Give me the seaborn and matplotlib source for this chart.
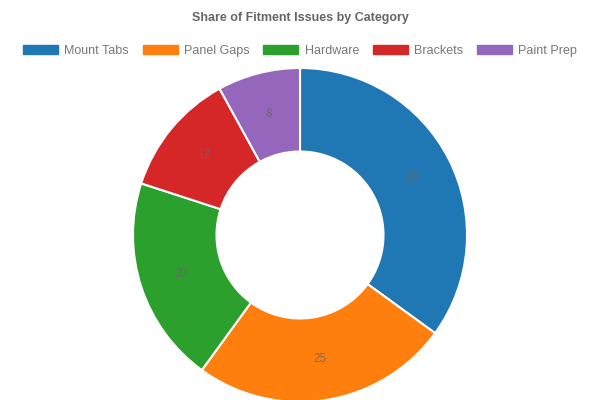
import numpy as np
import seaborn as sns
import matplotlib
matplotlib.use('Agg')
import matplotlib.pyplot as plt
from matplotlib.patches import Patch

categories = ['Mount Tabs', 'Panel Gaps', 'Hardware', 'Brackets', 'Paint Prep']
values = [35, 25, 20, 12, 8]
title = 'Share of Fitment Issues by Category'

sns.set_theme(style='white')
plt.rcParams['font.family'] = ['Liberation Sans', 'DejaVu Sans']
colors = sns.color_palette('tab10', len(categories))

fig = plt.figure(figsize=(6, 4), dpi=100)
# pie area in pixel terms: centre (300,235), radius ~167
ax = fig.add_axes([133 / 600, (400 - 402) / 400, 334 / 600, 334 / 400])
wedges, _ = ax.pie(values, colors=colors, startangle=90, counterclock=False,
                   radius=1.0,
                   wedgeprops=dict(width=0.5, edgecolor='white', linewidth=1.5))
ax.set_xlim(-1, 1)
ax.set_ylim(-1, 1)
ax.axis('off')

# value labels at middle of the ring
total = sum(values)
start = 90.0
for v in values:
    mid = np.deg2rad(start - v / total * 360 / 2)
    ax.text(0.75 * np.cos(mid), 0.75 * np.sin(mid), str(v), ha='center', va='center',
            fontsize=8.5, color='#666666', alpha=0.8)
    start -= v / total * 360

fig.text(0.5, 1 - 18 / 400, title, ha='center', va='center', fontsize=9,
         fontweight='bold', color='#666666')

handles = [Patch(facecolor=c, edgecolor=c) for c in colors]
fig.legend(handles, categories, loc='center', bbox_to_anchor=(0.5, 1 - 51 / 400),
           ncol=len(categories), frameon=False, fontsize=9, labelcolor='#777777',
           handlelength=2.8, handleheight=0.75, handletextpad=0.5, columnspacing=1.1)

fig.savefig('out.png', dpi=100)
